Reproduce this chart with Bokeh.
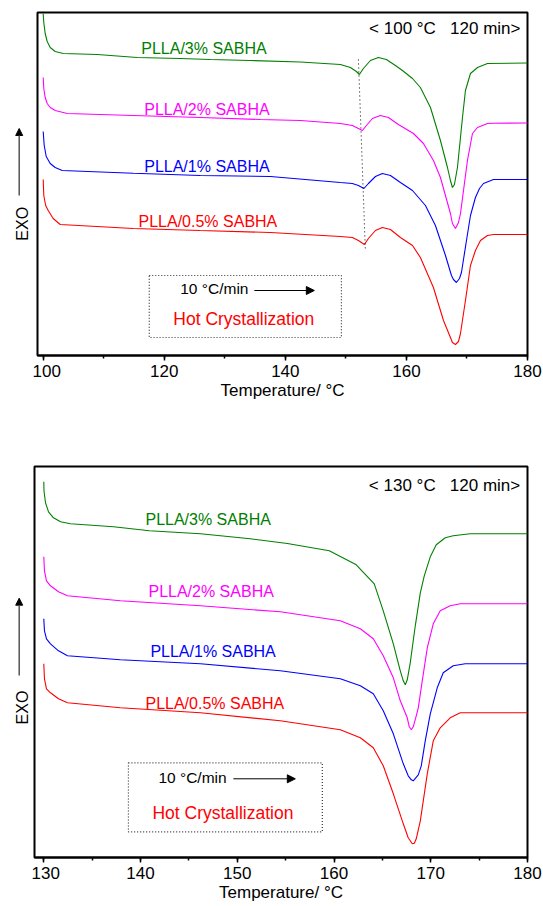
import math
from bokeh.plotting import figure
from bokeh.models import SingleIntervalTicker, Arrow, NormalHead
from bokeh.layouts import column, row
from bokeh.embed import file_html
from bokeh.resources import INLINE
from bokeh.core.properties import value

FONT = "Liberation Sans"

# ---------------- data: top panel (100 °C, 120 min) ----------------
t100_3 = [100.0, 100.1, 100.33, 100.66, 101.16, 101.98, 103.31, 108.93, 115.54, 122.64,
          127.6, 134.21, 142.48, 149.09, 150.74, 151.74, 152.23, 152.89, 154.05, 155.37,
          156.69, 158.18, 159.34, 161.0, 162.31, 163.97, 165.62, 166.78, 167.27, 167.6,
          167.93, 168.43, 169.26, 169.75, 170.58, 171.74, 173.39, 180.0]
hf100_3 = [342, 333, 322, 314, 308, 304, 302, 301, 298, 297,
           296, 295, 293.5, 291, 288, 284, 281, 287, 295, 298,
           296, 290, 285, 277, 268, 248, 215, 188, 175, 168,
           171, 188, 238, 265, 282, 288, 292, 292.5]

t100_2 = [100.0, 100.1, 100.33, 100.66, 101.16, 101.98, 103.97, 114.88, 125.95, 135.87,
          142.48, 149.09, 151.07, 152.07, 152.73, 153.39, 154.38, 155.7, 157.02, 158.68,
          161.16, 162.81, 164.46, 165.62, 167.27, 167.6, 168.1, 168.6, 168.93, 170.08,
          170.91, 171.74, 173.39, 174.38, 180.0]
hf100_2 = [278, 267, 258, 252, 248, 245, 242, 240, 238, 236,
           235, 232, 230, 227, 225, 230, 237, 240, 238, 231,
           222, 212, 195, 178, 142, 132, 127, 133, 142, 195,
           222, 228, 232, 232.3, 232.5]

t100_1 = [100.0, 100.17, 100.5, 101.16, 101.98, 103.14, 114.88, 125.95, 137.52, 149.09,
          151.07, 152.07, 152.98, 153.72, 154.88, 156.03, 157.36, 159.01, 161.0, 163.14,
          164.79, 166.45, 167.44, 167.77, 168.26, 168.76, 169.09, 169.92, 170.58, 171.4,
          172.07, 172.73, 174.38, 180.0]
hf100_1 = [224, 210, 199, 192, 188, 185, 182.3, 180, 179, 173,
           172, 170, 167, 172, 179, 182, 180, 173, 165, 150,
           130, 100, 80, 76, 73, 77, 83, 115, 140, 158,
           167, 172, 176, 176]

t100_05 = [100.0, 100.1, 100.41, 100.83, 101.65, 102.81, 114.88, 125.95, 137.52, 149.09,
           151.07, 152.07, 153.06, 153.72, 154.88, 156.03, 157.36, 159.01, 161.0, 162.31,
           164.46, 166.12, 167.27, 167.6, 168.1, 168.6, 168.93, 169.75, 170.58, 171.4,
           172.23, 173.39, 174.38, 180.0]
hf100_05 = [176, 160, 150, 145, 137, 131, 127, 125, 123, 119,
            118, 115, 111, 117, 125, 128, 126, 118, 110, 98,
            68, 35, 18, 13, 11, 14, 22, 55, 90, 105,
            115, 120, 121, 121]

# dotted guide through the small endotherm dips (top panel)
guide_t = [152.07, 153.22]
guide_hf = [296, 105]

# ---------------- data: bottom panel (130 °C, 120 min) ----------------
t130_3 = [130.0, 130.02, 130.18, 130.49, 131.0, 131.73, 132.76, 137.2, 140.92, 146.19,
          151.35, 155.18, 159.51, 162.3, 164.16, 165.09, 166.13, 166.85, 167.16, 167.37,
          167.57, 167.88, 168.4, 168.92, 169.33, 169.95, 170.57, 171.5, 172.32, 174.08,
          180.0]
hf130_3 = [375.7, 366.7, 354.7, 345.7, 339.7, 335.7, 333.7, 330.7, 326.7, 323.7,
           318.7, 314.0, 306.7, 292.7, 273.7, 246.7, 213.7, 186.7, 176.7, 172.7,
           177.7, 194.7, 231.7, 264.7, 281.7, 300.7, 312.7, 319.7, 321.7, 323.7,
           323.7]

t130_2 = [130.0, 130.07, 130.28, 130.69, 131.52, 132.45, 137.92, 146.19, 154.45, 160.65,
          162.72, 164.06, 165.09, 166.13, 166.85, 167.57, 167.78, 167.99, 168.19, 168.5,
          168.71, 169.12, 169.64, 170.26, 170.98, 172.01, 173.05, 180.0]
hf130_2 = [300.7, 286.7, 276.7, 271.7, 265.7, 261.7, 256.7, 251.7, 245.7, 236.7,
           228.7, 218.7, 201.7, 179.7, 156.7, 139.7, 130.7, 127.7, 130.7, 141.7,
           149.7, 176.7, 209.7, 233.7, 246.7, 251.7, 253.7, 253.7]

t130_1 = [130.0, 130.07, 130.28, 130.69, 131.52, 132.45, 137.92, 146.19, 154.45, 160.65,
          162.72, 164.06, 165.09, 166.13, 167.16, 167.67, 167.99, 168.19, 168.71, 169.02,
          169.43, 169.95, 170.67, 171.29, 172.32, 173.56, 180.0]
hf130_1 = [238.7, 226.7, 218.7, 213.7, 206.7, 201.7, 197.7, 193.7, 186.7, 178.7,
           171.7, 163.7, 146.7, 123.7, 93.7, 81.7, 77.7, 76.7, 82.7, 91.7,
           116.7, 143.7, 169.7, 184.7, 191.7, 193.7, 193.7]

t130_05 = [130.0, 130.07, 130.28, 130.69, 131.52, 132.45, 137.92, 146.19, 154.45, 160.65,
           162.72, 164.06, 165.09, 166.13, 167.16, 167.67, 168.09, 168.3, 168.5, 168.92,
           169.64, 170.26, 170.98, 172.01, 173.05, 180.0]
hf130_05 = [193.7, 178.7, 168.7, 164.7, 158.7, 154.7, 149.7, 144.7, 136.7, 127.7,
            119.7, 109.7, 91.7, 63.7, 33.7, 19.7, 13.7, 14.2, 18.7, 36.7,
            83.7, 116.7, 129.7, 139.7, 144.7, 144.7]

series_names = ["PLLA/3% SABHA", "PLLA/2% SABHA", "PLLA/1% SABHA", "PLLA/0.5% SABHA"]
series_colors = ["#008000", "#ff00ff", "#0000ff", "#ff0000"]
x_tick_interval_top = 20
x_tick_interval_bottom = 10
NB = "\u00a0"
condition_top = "<" + NB + "100" + NB + "°C" + NB * 3 + "120" + NB + "min>"
condition_bottom = "<" + NB + "130" + NB + "°C" + NB * 3 + "120" + NB + "min>"
rate_text = "10 °C/min"
mode_text = "Hot Crystallization"
x_title = "Temperature/ °C"
y_title = "EXO"


def make_fig(width, height, xr, yr, interval, mb_left, mb_top, mb_bottom, tick_standoff,
             title_standoff):
    p = figure(width=width, height=height, x_range=xr, y_range=yr,
               output_backend="svg", toolbar_location=None,
               min_border_left=mb_left, min_border_right=16,
               min_border_top=mb_top, min_border_bottom=mb_bottom)
    p.grid.visible = False
    p.background_fill_color = "white"
    p.border_fill_color = "white"
    p.outline_line_color = "black"
    p.outline_line_width = 2
    p.yaxis.visible = False
    p.xaxis.ticker = SingleIntervalTicker(interval=interval, num_minor_ticks=2)
    p.xaxis.axis_line_width = 2
    p.xaxis.major_tick_out = 5
    p.xaxis.major_tick_in = 0
    p.xaxis.minor_tick_out = 3
    p.xaxis.minor_tick_in = 0
    p.xaxis.major_tick_line_width = 1.5
    p.xaxis.minor_tick_line_width = 1.5
    p.xaxis.major_label_standoff = tick_standoff
    p.xaxis.major_label_text_font = FONT
    p.xaxis.major_label_text_font_size = "17px"
    p.xaxis.major_label_text_color = "black"
    p.xaxis.axis_label = x_title
    p.xaxis.axis_label_standoff = title_standoff
    p.xaxis.axis_label_text_font = FONT
    p.xaxis.axis_label_text_font_size = "17px"
    p.xaxis.axis_label_text_font_style = "normal"
    p.xaxis.axis_label_text_color = "black"
    return p


def make_strip(width, height, frame_h, exo_xy, arrow_xyy):
    # narrow companion panel holding the rotated "EXO" label and its arrow;
    # its frame is aligned with the main plot frame by the row layout
    s = figure(width=width, height=height, x_range=(0, width), y_range=(0, frame_h),
               output_backend="svg", toolbar_location=None, min_border=0)
    s.axis.visible = False
    s.grid.visible = False
    s.outline_line_color = None
    s.background_fill_color = "white"
    s.border_fill_color = "white"
    s.text(x=[exo_xy[0]], y=[exo_xy[1]], text=[y_title], angle=math.pi / 2,
           text_align="center", text_baseline="middle", text_font=value(FONT),
           text_font_size="16px", text_color="black")
    s.add_layout(Arrow(x_start=arrow_xyy[0], y_start=arrow_xyy[1], x_end=arrow_xyy[0],
                       y_end=arrow_xyy[2], line_width=1.5, line_color="#555555",
                       end=NormalHead(size=7, fill_color="black", line_color="black")))
    return s


def decorate(p, curves, label_pos, cond_text, cond_pos, box, rate_pos, arrow_pos, mode_pos):
    for (t, hf), c in zip(curves, series_colors):
        p.line(t, hf, line_color=c, line_width=1.1)
    for name, c, (lx, ly) in zip(series_names, series_colors, label_pos):
        p.text(x=[lx], y=[ly], text=[name], text_color=c, text_font=value(FONT),
               text_font_size="16px", text_align="left", text_baseline="middle")
    p.text(x=[cond_pos[0]], y=[cond_pos[1]], text=[cond_text], text_color="black",
           text_font=value(FONT), text_font_size="17px", text_align="right",
           text_baseline="middle")
    l, r, b, t = box
    p.quad(left=[l], right=[r], bottom=[b], top=[t], fill_alpha=0,
           line_color="#333333", line_width=1.2, line_dash="1 2")
    p.text(x=[rate_pos[0]], y=[rate_pos[1]], text=[rate_text], text_color="black",
           text_font=value(FONT), text_font_size="15.5px", text_align="left",
           text_baseline="middle")
    p.add_layout(Arrow(x_start=arrow_pos[0], y_start=arrow_pos[2], x_end=arrow_pos[1],
                       y_end=arrow_pos[2], line_width=1, line_color="black",
                       end=NormalHead(size=8, fill_color="black", line_color="black")))
    p.text(x=[mode_pos[0]], y=[mode_pos[1]], text=[mode_text], text_color="#ff0000",
           text_font=value(FONT), text_font_size="17.5px", text_align="left",
           text_baseline="middle")


# ---------------- top figure ----------------
p1 = make_fig(511, 458, (99.06, 180), (0, 343), x_tick_interval_top, 5, 12, 103, 4, 1)
decorate(p1,
         [(t100_3, hf100_3), (t100_2, hf100_2), (t100_1, hf100_1), (t100_05, hf100_05)],
         [(116.2, 307.5), (116.69, 246), (116.69, 189.3), (115.75, 134.3)],
         condition_top, (178.84, 327),
         (117.52, 149.26, 18, 80), (122.64, 67), (134.88, 144.79, 65), (121.49, 37))
p1.line(guide_t, guide_hf, line_color="black", line_width=1, line_dash="1 3")
s1 = make_strip(32, 458, 343, (21.5, 131.7), (18.7, 160, 227))

# ---------------- bottom figure ----------------
p2 = make_fig(512, 448, (129.04, 180), (0, 391), x_tick_interval_bottom, 3, 8, 49, 4, 1)
decorate(p2,
         [(t130_3, hf130_3), (t130_2, hf130_2), (t130_1, hf130_1), (t130_05, hf130_05)],
         [(140.51, 337.7), (140.82, 265.7), (141.02, 205.7), (140.51, 154)],
         condition_bottom, (179.25, 372.1),
         (138.75, 158.79, 25.7, 94.7), (141.85, 79.7), (149.6, 156.0, 78.7), (141.23, 44.7))
s2 = make_strip(31, 448, 391, (21.5, 150), (18.7, 182, 259.3))

layout = column(row(s1, p1, spacing=0), row(s2, p2, spacing=0), spacing=0)
open("out.html", "w").write(file_html(layout, INLINE))
